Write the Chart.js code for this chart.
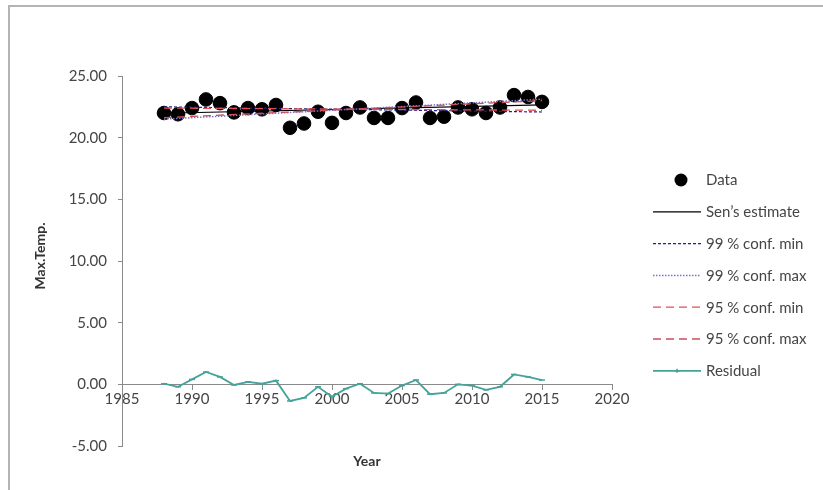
<!DOCTYPE html>
<html>
<head>
<meta charset="utf-8">
<script src="https://cdn.jsdelivr.net/npm/chart.js@4.4.1/dist/chart.umd.min.js"></script>
<style>
  html, body { margin: 0; padding: 0; background: #ffffff; }
  #wrap { position: relative; width: 823px; height: 490px; overflow: hidden; }
  #frame { position: absolute; left: 8px; top: 5px; width: 900px; height: 600px;
           border-left: 2px solid #b4b4b4; border-top: 2px solid #b4b4b4; pointer-events: none; }
  canvas { position: absolute; left: 0; top: 0; }
</style>
</head>
<body>
<div id="wrap">
  <canvas id="chart" width="823" height="490"></canvas>
  <div id="frame"></div>
</div>
<script>
// Annual maximum temperature series
const years = [1988, 1989, 1990, 1991, 1992, 1993, 1994, 1995, 1996, 1997,
               1998, 1999, 2000, 2001, 2002, 2003, 2004, 2005, 2006, 2007,
               2008, 2009, 2010, 2011, 2012, 2013, 2014, 2015];
const maxTemp = [22.0, 21.9, 22.4, 23.1, 22.8, 22.05, 22.4, 22.3, 22.65, 20.8,
                 21.15, 22.1, 21.2, 22.0, 22.45, 21.6, 21.6, 22.4, 22.85, 21.6,
                 21.7, 22.45, 22.3, 22.0, 22.45, 23.45, 23.3, 22.9];
const residual = [0.05, -0.2, 0.4, 1.0, 0.6, -0.05, 0.2, 0.05, 0.3, -1.35,
                  -1.1, -0.2, -1.0, -0.35, 0.05, -0.7, -0.75, -0.1, 0.35, -0.8,
                  -0.7, 0.0, -0.1, -0.45, -0.2, 0.8, 0.6, 0.35];

// Trend lines (Sen's slope and confidence bounds), first and last year
const trendYears = [1988, 2015];
const senEstimate = [21.98, 22.66];
const conf99Min = [22.50, 22.08];
const conf99Max = [21.50, 23.12];
const conf95Min = [22.40, 22.22];
const conf95Max = [21.62, 23.00];

// Axis ranges and tick spacing
const xRange = [1985, 2020];
const yRange = [-5, 25];
const xStep = 5;
const yStep = 5;

const labels = {
  data: "Data",
  sen: "Sen\u2019s estimate",
  c99min: "99 % conf. min",
  c99max: "99 % conf. max",
  c95min: "95 % conf. min",
  c95max: "95 % conf. max",
  resid: "Residual",
  xTitle: "Year",
  yTitle: "Max.Temp."
};

const FONT = "Lato, 'Open Sans', sans-serif";
const TEXT = "#454545";
const AXIS = "#8a8a8a";

const pts = (xs, ys) => xs.map((x, i) => ({ x: x, y: ys[i] }));

const datasets = [
  { label: labels.data, data: pts(years, maxTemp), showLine: false,
    pointRadius: 6.8, pointBackgroundColor: "#000000", pointBorderColor: "#000000",
    order: 10, legendKind: "marker" },
  { label: labels.sen, data: pts(trendYears, senEstimate), showLine: true,
    borderColor: "#000000", borderWidth: 1.2, pointRadius: 0, order: 5 },
  { label: labels.c99min, data: pts(trendYears, conf99Min), showLine: true,
    borderColor: "#1f1f8f", borderWidth: 1.2, borderDash: [3, 2], pointRadius: 0, order: 4 },
  { label: labels.c99max, data: pts(trendYears, conf99Max), showLine: true,
    borderColor: "#7b72d0", borderWidth: 1.5, borderDash: [1.5, 1.5], pointRadius: 0, order: 3 },
  { label: labels.c95min, data: pts(trendYears, conf95Min), showLine: true,
    borderColor: "#e0505a", borderWidth: 1.3, borderDash: [8, 5], pointRadius: 0, order: 2 },
  { label: labels.c95max, data: pts(trendYears, conf95Max), showLine: true,
    borderColor: "#c8505f", borderWidth: 1.3, borderDash: [8, 5], pointRadius: 0, order: 1 },
  { label: labels.resid, data: pts(years, residual), showLine: true,
    borderColor: "#45a39a", borderWidth: 1.8, pointStyle: "line", pointRadius: 3,
    pointBorderColor: "#45a39a", pointBorderWidth: 1.5, order: 6, legendKind: "lineMarker" }
];

// Legend and axis titles drawn directly on the canvas
const decorations = {
  id: "decorations",
  afterDraw(chart) {
    const ctx = chart.ctx;
    ctx.save();
    // axis titles
    ctx.fillStyle = "#333333";
    ctx.font = "bold 14px " + FONT;
    ctx.textAlign = "center";
    ctx.textBaseline = "middle";
    ctx.fillText(labels.xTitle, 367, 461);
    ctx.save();
    ctx.translate(40, 256);
    ctx.rotate(-Math.PI / 2);
    ctx.fillText(labels.yTitle, 0, 0);
    ctx.restore();

    // legend
    const x0 = 653, x1 = 701, tx = 706, rowTop = 180, rowGap = 31.8;
    ctx.font = "15px " + FONT;
    ctx.textAlign = "left";
    chart.data.datasets.forEach((ds, i) => {
      const y = rowTop + i * rowGap;
      if (ds.legendKind === "marker") {
        ctx.fillStyle = ds.pointBackgroundColor;
        ctx.beginPath();
        ctx.arc((x0 + x1) / 2 + 4, y, 6.5, 0, Math.PI * 2);
        ctx.fill();
      } else {
        ctx.strokeStyle = ds.borderColor;
        ctx.lineWidth = ds.borderWidth;
        ctx.setLineDash(ds.borderDash || []);
        ctx.beginPath();
        ctx.moveTo(x0, y);
        ctx.lineTo(x1, y);
        ctx.stroke();
        ctx.setLineDash([]);
        if (ds.legendKind === "lineMarker") {
          const cx = (x0 + x1) / 2;
          ctx.lineWidth = 1.5;
          ctx.beginPath();
          ctx.moveTo(cx - 3, y);
          ctx.lineTo(cx + 3, y);
          ctx.moveTo(cx, y - 2);
          ctx.lineTo(cx, y + 2);
          ctx.stroke();
        }
      }
      ctx.fillStyle = TEXT;
      ctx.fillText(ds.label, tx, y + 0.5);
    });
    ctx.restore();
  }
};

new Chart(document.getElementById("chart"), {
  type: "scatter",
  data: { datasets: datasets },
  plugins: [decorations],
  options: {
    responsive: false,
    animation: false,
    events: [],
    layout: { padding: { top: 76, bottom: 44, left: 0, right: 211 } },
    plugins: { legend: { display: false }, tooltip: { enabled: false } },
    scales: {
      x: {
        type: "linear",
        position: { y: 0 },
        min: xRange[0], max: xRange[1],
        ticks: { stepSize: xStep, color: TEXT, font: { family: FONT, size: 15 }, padding: 1,
                 maxRotation: 0, callback: (v) => String(v) },
        grid: { drawOnChartArea: false, drawTicks: true, tickLength: 5, color: AXIS },
        border: { color: AXIS, width: 1 }
      },
      y: {
        type: "linear",
        min: yRange[0], max: yRange[1],
        afterFit: (s) => { s.width = 122; },
        ticks: { stepSize: yStep, color: TEXT, font: { family: FONT, size: 15 }, padding: 11,
                 callback: (v) => Number(v).toFixed(2) },
        grid: { drawOnChartArea: false, drawTicks: true, tickLength: 4, color: AXIS },
        border: { color: AXIS, width: 1 }
      }
    }
  }
});
</script>
</body>
</html>
